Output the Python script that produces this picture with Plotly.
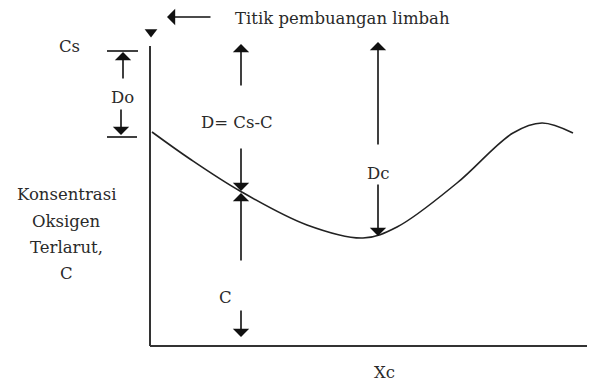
import plotly.graph_objects as go

# Oxygen sag curve (distance downstream vs dissolved oxygen concentration), in diagram units
dist = [2, 40, 90, 157, 213, 247, 307, 363, 392, 423]
conc = [214, 187, 155, 121, 108, 119, 163, 213, 223, 213]

axis_top = 300
axis_right = 445
cs_level = 295
do_level = 209
x_d = 91       # position of the D / C arrows
x_c = 228      # critical point Xc
c_at_xd = 154
c_min = 110

FONT = "DejaVu Serif"
TXT = "#2a2a2a"
LINE = "#333333"

fig = go.Figure()

# axes
fig.add_trace(go.Scatter(x=[0, 0], y=[0, axis_top], mode="lines",
                         line=dict(color=LINE, width=2), hoverinfo="skip"))
fig.add_trace(go.Scatter(x=[0, axis_right], y=[0, 0], mode="lines",
                         line=dict(color=LINE, width=2), hoverinfo="skip"))
# sag curve
fig.add_trace(go.Scatter(x=dist, y=conc, mode="lines",
                         line=dict(color="#222222", width=1.6, shape="spline", smoothing=1.0),
                         hoverinfo="skip"))
# discharge point marker
fig.add_trace(go.Scatter(x=[1], y=[314], mode="markers",
                         marker=dict(symbol="triangle-down", size=11, color="#111111"),
                         hoverinfo="skip"))
# Cs and Do tick lines
fig.add_trace(go.Scatter(x=[-43, -12], y=[cs_level, cs_level], mode="lines",
                         line=dict(color="#111111", width=1.6), hoverinfo="skip"))
fig.add_trace(go.Scatter(x=[-43, -13], y=[do_level, do_level], mode="lines",
                         line=dict(color="#111111", width=1.6), hoverinfo="skip"))

arrows = [
    # (tip_x, tip_y, tail_x, tail_y)
    (-27, 294, -27, 266),          # Cs up
    (-29, 211, -29, 238),          # Do down
    (x_d, 302, x_d, 259),          # D upper
    (x_d, c_at_xd + 1, x_d, 199),  # D down to curve
    (x_d, c_at_xd - 1, x_d, 84),   # C up to curve
    (x_d, 9, x_d, 37),             # C down
    (x_c, 304, x_c, 200),          # Dc up
    (x_c, c_min, x_c, 163),        # Dc down
    (17, 329, 62, 329),            # pointer to discharge point
]
for tx, ty, sx, sy in arrows:
    fig.add_annotation(x=tx, y=ty, ax=sx, ay=sy, xref="x", yref="y",
                       axref="x", ayref="y", text="", showarrow=True,
                       arrowhead=1, arrowsize=1.7, arrowwidth=1.6,
                       arrowcolor="#111111", standoff=0, startstandoff=0)

labels = [
    ("Titik pembuangan limbah", 83, 328, "left"),
    ("Cs", -81, 300, "center"),
    ("Do", -28, 249, "center"),
    ("D= Cs-C", 87, 224, "center"),
    ("Dc", 228, 173, "center"),
    ("C", 75, 49, "center"),
    ("Xc", 234, -26, "center"),
    ("Konsentrasi", -84, 152, "center"),
    ("Oksigen", -84, 125, "center"),
    ("Terlarut,", -84, 99, "center"),
    ("C", -84, 73, "center"),
]
for t, x, y, anc in labels:
    fig.add_annotation(x=x, y=y, xref="x", yref="y", text=t, showarrow=False,
                       xanchor=anc, yanchor="middle",
                       font=dict(family=FONT, size=16.5, color=TXT))

# the page body has an 8px margin, so the ranges are shifted by 8px
fig.update_layout(
    width=595, height=381,
    margin=dict(l=0, r=0, t=0, b=0),
    paper_bgcolor="white", plot_bgcolor="white",
    showlegend=False,
    xaxis=dict(range=[-142, 453], visible=False, fixedrange=True),
    yaxis=dict(range=[-43, 338], visible=False, fixedrange=True),
)

fig.write_html("out.html")
